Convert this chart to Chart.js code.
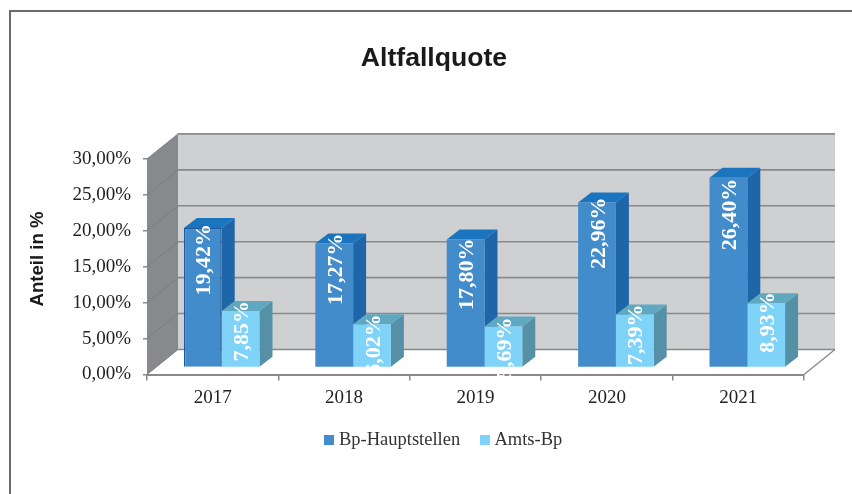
<!DOCTYPE html>
<html>
<head>
<meta charset="utf-8">
<style>
  html, body { margin: 0; padding: 0; background: #fff; }
  #wrap { width: 852px; height: 494px; }
</style>
<script src="https://cdn.jsdelivr.net/npm/chart.js@4/dist/chart.umd.min.js"></script>
</head>
<body>
<div id="wrap"><canvas id="altfallChart" width="852" height="494"></canvas></div>
<script>
// Data
const years = ['2017', '2018', '2019', '2020', '2021'];
const hauptstellen = [19.42, 17.27, 17.80, 22.96, 26.40];
const amtsBp = [7.85, 6.02, 5.69, 7.39, 8.93];

// how far each rotated label sticks out above its bar
const labelNudge = [[4, 10, 1, 5, -1], [10, 10, 9, 10, 11]];

const ctx = document.getElementById('altfallChart').getContext('2d');

const serif = '"Liberation Serif", serif';
const sans = '"Liberation Sans", sans-serif';
const gridColor = '#88898c';
const barColors = ['#438ccb', '#7fd2f8'];
const sides = ['#1f66a9', '#5590a6'];
const tops = ['#1a74be', '#5fa8bf'];

const fmt = v => v.toFixed(2).replace('.', ',') + '%';

// legend squares, as small canvases so the text can sit close to them
function legendSquare(color) {
    const sq = document.createElement('canvas');
    sq.width = 10;
    sq.height = 10;
    const g = sq.getContext('2d');
    g.fillStyle = color;
    g.fillRect(0, 0, 10, 10);
    return sq;
}

// 3D look: walls and floor behind the plot, bar sides and tops, rotated labels
const box3d = {
    id: 'box3d',
    afterLayout(chart) {
        // title and legend are not centred on the plot in the original
        chart.titleBlock.left += 18;
        chart.titleBlock.right += 18;
        chart.legend.left += 29.5;
        chart.legend.right += 29.5;
    },
    beforeDraw(chart) {
        const c = chart.ctx;
        c.save();
        c.strokeStyle = '#6a6a6a';
        c.lineWidth = 2;
        c.beginPath();
        c.moveTo(10, 494);
        c.lineTo(10, 11);
        c.lineTo(852, 11);
        c.stroke();

        // axis title sits above the middle of the axis in the original
        c.fillStyle = '#1a1a1a';
        c.font = 'bold 18.6px ' + sans;
        c.textAlign = 'center';
        c.textBaseline = 'middle';
        c.translate(38, 259);
        c.rotate(-Math.PI / 2);
        c.fillText('Anteil in %', 0, 0);
        c.restore();
    },
    beforeDatasetsDraw(chart) {
        const c = chart.ctx;
        const { left, right } = chart.chartArea;
        const y = chart.scales.y;
        const dx = 31, dy = 25;
        const yTop = y.getPixelForValue(30), yBase = y.getPixelForValue(0);

        c.save();
        c.fillStyle = '#cfd0d2';
        c.fillRect(left + dx, yTop - dy, right - left, yBase - yTop);
        c.fillStyle = '#88898d';
        c.beginPath();
        c.moveTo(left, yTop);
        c.lineTo(left + dx, yTop - dy);
        c.lineTo(left + dx, yBase - dy);
        c.lineTo(left, yBase);
        c.closePath();
        c.fill();

        y.ticks.forEach(t => {
            const py = y.getPixelForValue(t.value);
            c.strokeStyle = gridColor;
            c.lineWidth = 1.6;
            c.beginPath();
            c.moveTo(left + dx, py - dy);
            c.lineTo(right + dx, py - dy);
            c.stroke();
            c.strokeStyle = '#7c7d81';
            c.lineWidth = 1;
            c.beginPath();
            c.moveTo(left, py);
            c.lineTo(left + dx, py - dy);
            c.stroke();
        });
        c.strokeStyle = gridColor;
        c.lineWidth = 1.4;
        c.beginPath();
        c.moveTo(right, yBase);
        c.lineTo(right + dx, yBase - dy);
        c.stroke();

        // front faces sit a bit inside the floor
        c.translate(9, -7);
        const ox = 13, oy = 10;
        [0, 1].forEach(d => {
            chart.getDatasetMeta(d).data.forEach(bar => {
                const x1 = bar.x - bar.width / 2, x2 = bar.x + bar.width / 2;
                c.fillStyle = sides[d];
                c.beginPath();
                c.moveTo(x2, bar.y);
                c.lineTo(x2 + ox, bar.y - oy);
                c.lineTo(x2 + ox, bar.base - oy);
                c.lineTo(x2, bar.base);
                c.closePath();
                c.fill();
                c.fillStyle = tops[d];
                c.beginPath();
                c.moveTo(x1, bar.y);
                c.lineTo(x1 + ox, bar.y - oy);
                c.lineTo(x2 + ox, bar.y - oy);
                c.lineTo(x2, bar.y);
                c.closePath();
                c.fill();
            });
        });
    },
    afterDatasetsDraw(chart) {
        const c = chart.ctx;
        c.fillStyle = '#fff';
        c.font = 'bold 22px ' + serif;
        c.textAlign = 'right';
        c.textBaseline = 'middle';
        [0, 1].forEach(d => {
            chart.getDatasetMeta(d).data.forEach((bar, i) => {
                c.save();
                c.translate(bar.x, bar.y - labelNudge[d][i]);
                c.rotate(-Math.PI / 2);
                c.fillText(fmt(chart.data.datasets[d].data[i]), 0, 2);
                c.restore();
            });
        });
        c.restore();
    }
};

const altfallChart = new Chart(ctx, {
    type: 'bar',
    data: {
        labels: years,
        datasets: [{
            label: 'Bp-Hauptstellen',
            data: hauptstellen,
            backgroundColor: barColors[0],
            borderColor: '#1f5a9a',
            borderWidth: [1.5, 0, 0, 0, 0],
            categoryPercentage: 0.575,
            barPercentage: 1
        }, {
            label: 'Amts-Bp',
            data: amtsBp,
            backgroundColor: barColors[1],
            borderWidth: 0,
            categoryPercentage: 0.575,
            barPercentage: 1
        }]
    },
    options: {
        responsive: false,
        animation: false,
        layout: { padding: { left: 28, right: 48, top: 0, bottom: 35 } },
        plugins: {
            title: {
                display: true,
                text: 'Altfallquote',
                color: '#1a1a1a',
                font: { family: sans, size: 26.6, weight: 'bold' },
                padding: { top: 43, bottom: 84 }
            },
            legend: {
                position: 'bottom',
                labels: {
                    color: '#333',
                    font: { family: serif, size: 18.5 },
                    usePointStyle: true,
                    pointStyleWidth: 1,
                    boxHeight: 10,
                    padding: 24,
                    generateLabels: chart => chart.data.datasets.map((ds, i) => ({
                        text: ds.label,
                        fontColor: '#333',
                        pointStyle: legendSquare(barColors[i]),
                        lineWidth: 0,
                        datasetIndex: i
                    }))
                }
            },
            tooltip: { enabled: false }
        },
        scales: {
            x: {
                afterFit(s) { s.height = 32; },
                border: { color: gridColor, width: 2 },
                grid: { drawOnChartArea: false, color: gridColor, tickLength: 6, lineWidth: 1.5 },
                ticks: { color: '#222', font: { family: serif, size: 19 }, padding: 6, maxRotation: 0 }
            },
            y: {
                min: 0,
                max: 30,
                afterFit(s) { s.width = 119; },
                border: { display: false },
                grid: { drawOnChartArea: false, color: gridColor, tickLength: 4, lineWidth: 1.5 },
                ticks: {
                    stepSize: 5,
                    color: '#222',
                    font: { family: serif, size: 19 },
                    padding: 12,
                    callback: v => fmt(v)
                }
            }
        }
    },
    plugins: [box3d]
});
</script>
</body>
</html>
